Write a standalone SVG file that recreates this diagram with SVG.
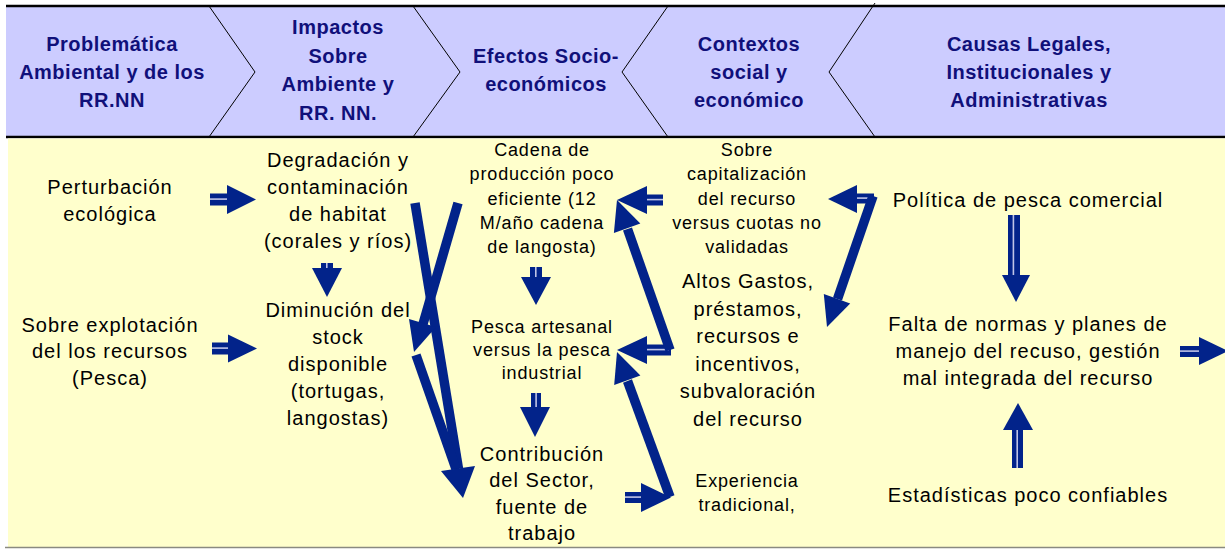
<svg xmlns="http://www.w3.org/2000/svg" width="1225" height="549" viewBox="0 0 1225 549">
<style>
.h{font-family:"Liberation Sans",Arial,sans-serif;font-weight:bold;font-size:20px;fill:#10107A;letter-spacing:0.5px;text-anchor:middle}
.t{font-family:"Liberation Sans",Arial,sans-serif;font-size:20px;fill:#000;letter-spacing:1px;text-anchor:middle}
.s{font-family:"Liberation Sans",Arial,sans-serif;font-size:18px;fill:#000;letter-spacing:0.85px;text-anchor:middle}
.a{fill:#02238A}
.st{fill:#BFC4E6}
.d{stroke:#02238A;stroke-width:9.5;fill:none;stroke-linecap:butt}
.ch{stroke:#000;stroke-width:1;fill:none}
</style>
<rect x="0" y="0" width="1225" height="549" fill="#fff"/>
<g id="header">
<rect x="6" y="6" width="1219" height="131" fill="#CCCCFF"/>
<line x1="6" y1="6" x2="1225" y2="6" stroke="#000" stroke-width="2.5"/>
<line x1="6" y1="137" x2="1225" y2="137" stroke="#000" stroke-width="2.5"/>
<polyline class="ch" points="209,6 255,72 209,137"/>
<polyline class="ch" points="413,6 460,72 413,137"/>
<polyline class="ch" points="668,6 622,72 668,137"/>
<polyline class="ch" points="875,3 829,72 875,137"/>
</g>
<g id="head-problematica"><text class="h" x="112" y="51">Problemática</text><text class="h" x="112" y="79">Ambiental y de los</text><text class="h" x="112" y="106.7">RR.NN</text></g>
<g id="head-impactos"><text class="h" x="338" y="34">Impactos</text><text class="h" x="338" y="62.5">Sobre</text><text class="h" x="338" y="91">Ambiente y</text><text class="h" x="338" y="119.5">RR. NN.</text></g>
<g id="head-efectos"><text class="h" x="546" y="63">Efectos Socio-</text><text class="h" x="546" y="91">económicos</text></g>
<g id="head-contextos"><text class="h" x="749" y="51">Contextos</text><text class="h" x="749" y="79">social y</text><text class="h" x="749" y="106.7">económico</text></g>
<g id="head-causas"><text class="h" x="1029" y="51">Causas Legales,</text><text class="h" x="1029" y="79">Institucionales y</text><text class="h" x="1029" y="106.7">Administrativas</text></g>
<g id="body">
<rect x="8" y="138.5" width="1217" height="408.5" fill="#FFFFCC"/>
<line x1="5" y1="547.5" x2="1225" y2="547.5" stroke="#8A8A80" stroke-width="1.5"/>
</g>
<g id="n-perturbacion"><text class="t" x="110" y="194">Perturbación</text><text class="t" x="110" y="220.7">ecológica</text></g>
<g id="n-sobreexplotacion"><text class="t" x="110" y="331.7">Sobre explotación</text><text class="t" x="110" y="358.3">del los recursos</text><text class="t" x="110" y="385">(Pesca)</text></g>
<g id="n-degradacion"><text class="t" x="338" y="166.7">Degradación y</text><text class="t" x="338" y="194">contaminación</text><text class="t" x="338" y="221.3">de habitat</text><text class="t" x="338" y="248">(corales y ríos)</text></g>
<g id="n-diminucion"><text class="t" x="338" y="316.7">Diminución del</text><text class="t" x="338" y="343.5">stock</text><text class="t" x="338" y="370.8">disponible</text><text class="t" x="338" y="398">(tortugas,</text><text class="t" x="338" y="425">langostas)</text></g>
<g id="n-cadena"><text class="s" x="542" y="156">Cadena de</text><text class="s" x="542" y="180.3">producción poco</text><text class="s" x="542" y="204.6">eficiente (12</text><text class="s" x="542" y="228.9">M/año cadena</text><text class="s" x="542" y="253.2">de langosta)</text></g>
<g id="n-pesca"><text class="s" x="542" y="332.7">Pesca artesanal</text><text class="s" x="542" y="356">versus la pesca</text><text class="s" x="542" y="379.3">industrial</text></g>
<g id="n-contribucion"><text class="t" x="542" y="460.7">Contribución</text><text class="t" x="542" y="487">del Sector,</text><text class="t" x="542" y="513.5">fuente de</text><text class="t" x="542" y="540">trabajo</text></g>
<g id="n-sobrecap"><text class="s" x="747" y="156">Sobre</text><text class="s" x="747" y="180.3">capitalización</text><text class="s" x="747" y="204.6">del recurso</text><text class="s" x="747" y="228.9">versus cuotas no</text><text class="s" x="747" y="253.2">validadas</text></g>
<g id="n-altos"><text class="t" x="748" y="288.3">Altos Gastos,</text><text class="t" x="748" y="316">préstamos,</text><text class="t" x="748" y="343.3">recursos e</text><text class="t" x="748" y="371">incentivos,</text><text class="t" x="748" y="398.3">subvaloración</text><text class="t" x="748" y="425.7">del recurso</text></g>
<g id="n-experiencia"><text class="s" x="747" y="486.7">Experiencia</text><text class="s" x="747" y="510.5">tradicional,</text></g>
<g id="n-politica"><text class="t" x="1028" y="206.7">Política de pesca comercial</text></g>
<g id="n-falta"><text class="t" x="1028" y="330.7">Falta de normas y planes de</text><text class="t" x="1028" y="358">manejo del recuso, gestión</text><text class="t" x="1028" y="385">mal integrada del recurso</text></g>
<g id="n-estadisticas"><text class="t" x="1028" y="501.7">Estadísticas poco confiables</text></g>
<g id="connectors">
<rect class="a" x="210" y="193.5" width="18" height="12"/><rect class="st" x="210" y="198.3" width="17" height="1.6"/><polygon class="a" points="227,185 256,199.5 227,214"/>
<rect class="a" x="212" y="342.5" width="17" height="12"/><rect class="st" x="212" y="347.3" width="16" height="1.6"/><polygon class="a" points="228,334.5 257,348.5 228,362.5"/>
<rect class="a" x="625" y="492" width="17" height="11"/><rect class="st" x="625" y="496.3" width="16" height="1.6"/><polygon class="a" points="641,483 671,497.5 641,512"/>
<rect class="a" x="1180" y="346" width="20" height="11"/><rect class="st" x="1180" y="350.3" width="19" height="1.6"/><polygon class="a" points="1199,337 1228,351 1199,365"/>
<rect class="a" x="646" y="194.5" width="17" height="11"/><rect class="st" x="647" y="198.8" width="16" height="1.6"/><polygon class="a" points="617,200 647,186 647,214"/>
<rect class="a" x="646" y="344.5" width="25" height="11"/><rect class="st" x="647" y="348.8" width="22" height="1.6"/><polygon class="a" points="617,350 647,336 647,364"/>
<rect class="a" x="856" y="193.5" width="18" height="10"/><rect class="st" x="857" y="197.3" width="14" height="1.6"/><polygon class="a" points="828,199 857,185 857,213"/>
<rect class="a" x="321" y="263" width="12" height="6"/><rect class="st" x="326" y="263" width="1.6" height="5"/><polygon class="a" points="312,268 342,268 327,297"/>
<rect class="a" x="530" y="267" width="12" height="11"/><rect class="st" x="535" y="267" width="1.6" height="10"/><polygon class="a" points="521,277 551,277 536,305"/>
<rect class="a" x="531" y="393" width="10" height="15"/><rect class="st" x="535.3" y="393" width="1.6" height="14"/><polygon class="a" points="520,407 550,407 535,437"/>
<rect class="a" x="1008" y="215" width="12" height="61"/><rect class="st" x="1012.6" y="215" width="1.6" height="60"/><polygon class="a" points="1002,275 1030,275 1016,302"/>
<rect class="a" x="1012" y="429" width="11" height="39"/><rect class="st" x="1016.4" y="430" width="1.6" height="38"/><polygon class="a" points="1018,403 1033,430 1003,430"/>
<line class="d" x1="415" y1="203" x2="458.5" y2="469"/>
<line class="d" x1="416" y1="355" x2="456" y2="469"/>
<polygon class="a" points="463,498 441,471 475,466"/>
<line class="d" x1="458" y1="203" x2="423" y2="324"/>
<polygon class="a" points="414,352 409,319 436,327"/>
<line class="d" x1="670" y1="350" x2="627.5" y2="229"/>
<polygon class="a" points="617,200 640.3,223.5 613.9,232.9"/>
<line class="d" x1="670" y1="497" x2="627.5" y2="381"/>
<polygon class="a" points="617,352 640.4,375.4 614.2,385"/>
<line class="d" x1="873" y1="196" x2="837.5" y2="299"/>
<polygon class="a" points="827,327 823.8,294 850.2,303.4"/>
</g>
</svg>
